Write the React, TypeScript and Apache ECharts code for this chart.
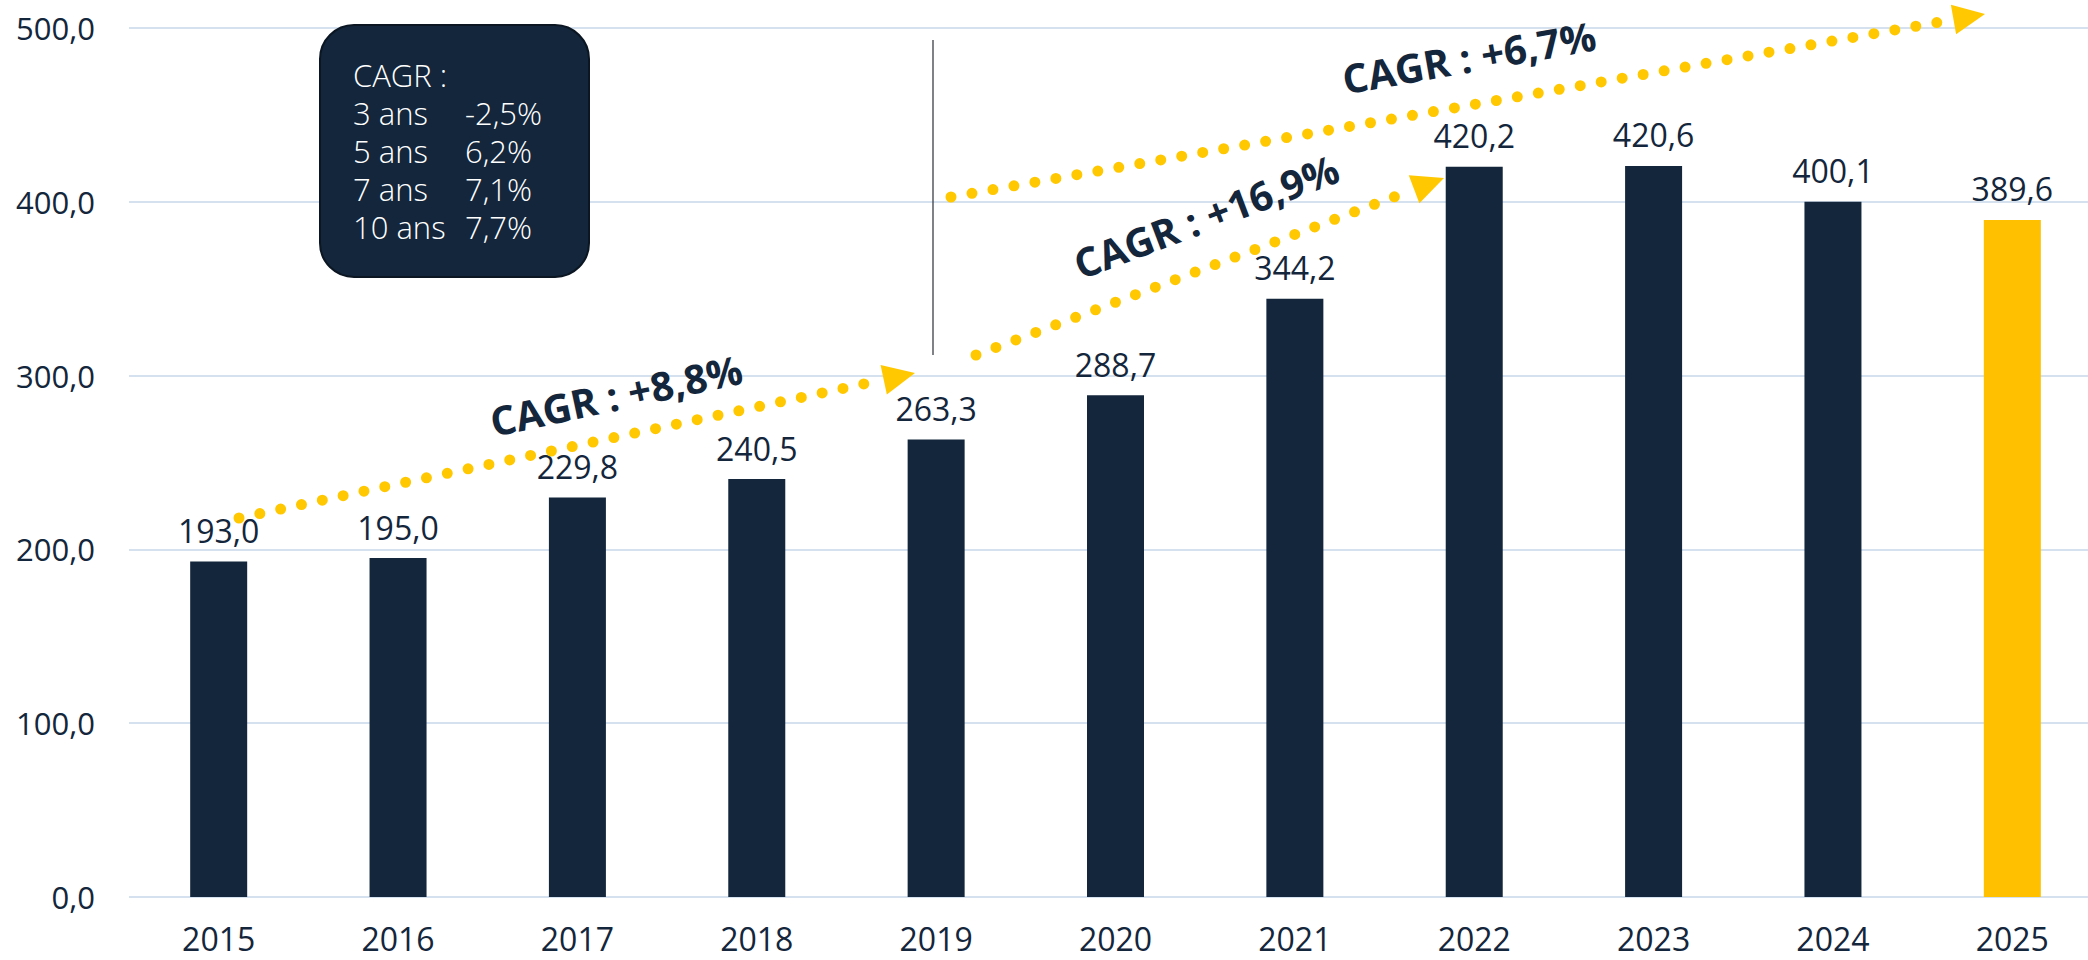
import React, { useEffect, useRef } from 'react';
import * as echarts from 'echarts';

// ---- Data ----
const years = ['2015', '2016', '2017', '2018', '2019', '2020', '2021', '2022', '2023', '2024', '2025'];
const revenue = [193.0, 195.0, 229.8, 240.5, 263.3, 288.7, 344.2, 420.2, 420.6, 400.1, 389.6];
const highlightYear = '2025';
const yMin = 0;
const yMax = 500;
const yInterval = 100;
const boxTitle = 'CAGR :';
const boxPeriods = ['3 ans', '5 ans', '7 ans', '10 ans'];
const boxRates = ['-2,5%', '6,2%', '7,1%', '7,7%'];
const arrowLabels = ['CAGR : +8,8%', 'CAGR : +16,9%', 'CAGR : +6,7%'];

// ---- Style ----
const NAVY = '#13263B';
const GOLD = '#FFC000';
const DOT = '#FFC800';
const GRID = '#D6E1EF';
const FONT = '"Open Sans", "Noto Sans", sans-serif';

const fmt = (v: number) => v.toFixed(1).replace('.', ',');

// annotation geometry (pixels)
const arrowGeo = [
  { x1: 239, y1: 518, x2: 915, y2: 373, tx: 616, ty: 395 },
  { x1: 976, y1: 355, x2: 1444, y2: 178, tx: 1206, ty: 216 },
  { x1: 951, y1: 197, x2: 1985, y2: 14, tx: 1469, ty: 57 },
];

function buildArrow(a: any, label: string) {
  const dx = a.x2 - a.x1;
  const dy = a.y2 - a.y1;
  const L = Math.hypot(dx, dy);
  const ux = dx / L;
  const uy = dy / L;
  const nx = -uy;
  const ny = ux;
  const headLen = 32;
  const headW = 30;
  const bx = a.x2 - ux * headLen;
  const by = a.y2 - uy * headLen;
  const ex = bx - ux * 12;
  const ey = by - uy * 12;
  const angle = Math.atan2(-dy, dx);
  return [
    {
      type: 'line',
      shape: { x1: a.x1, y1: a.y1, x2: ex, y2: ey },
      style: { stroke: DOT, lineWidth: 11, lineDash: [0, 21.3], lineCap: 'round' },
      z: 10,
    },
    {
      type: 'polygon',
      shape: {
        points: [
          [a.x2, a.y2],
          [bx + (nx * headW) / 2, by + (ny * headW) / 2],
          [bx - (nx * headW) / 2, by - (ny * headW) / 2],
        ],
      },
      style: { fill: DOT },
      z: 10,
    },
    {
      type: 'text',
      x: a.tx,
      y: a.ty,
      rotation: angle,
      style: {
        text: label,
        fontSize: 40,
        fontWeight: 'bold',
        fontFamily: FONT,
        fill: NAVY,
        align: 'center',
        verticalAlign: 'middle',
      },
      z: 11,
    },
  ];
}

export default function App() {
  const ref = useRef<HTMLDivElement>(null);

  useEffect(() => {
    if (!ref.current) return;
    const chart = echarts.init(ref.current, undefined, { renderer: 'svg' });

    const boxX = 320;
    const boxY = 25;
    const col1 = 353;
    const col2 = 465;
    const rowBase = [86, 124, 162, 200, 238];
    const boxFont = 31;
    const boxTexts: any[] = [];
    const mkText = (x: number, baseline: number, text: string) => ({
      type: 'text',
      x,
      y: baseline - boxFont * 0.36,
      style: {
        text,
        fontSize: boxFont,
        fontWeight: 300,
        fontFamily: FONT,
        fill: '#FFFFFF',
        align: 'left',
        verticalAlign: 'middle',
      },
      z: 21,
    });
    boxTexts.push(mkText(col1, rowBase[0], boxTitle));
    boxPeriods.forEach((p, i) => {
      boxTexts.push(mkText(col1, rowBase[i + 1], p));
      boxTexts.push(mkText(col2, rowBase[i + 1], boxRates[i]));
    });

    const graphics: any[] = [
      {
        type: 'rect',
        shape: { x: boxX, y: boxY, width: 269, height: 252, r: 34 },
        style: { fill: NAVY, stroke: '#0B1622', lineWidth: 2 },
        z: 20,
      },
      ...boxTexts,
      {
        type: 'line',
        shape: { x1: 933, y1: 40, x2: 933, y2: 355 },
        style: { stroke: '#3A3F45', lineWidth: 1.3 },
        z: 9,
      },
    ];
    arrowGeo.forEach((a, i) => graphics.push(...buildArrow(a, arrowLabels[i])));

    chart.setOption({
      animation: false,
      backgroundColor: '#FFFFFF',
      textStyle: { fontFamily: FONT },
      grid: { left: 129, top: 28, bottom: 63, width: 1973, containLabel: false },
      xAxis: {
        type: 'category',
        data: years,
        axisLine: { show: false },
        axisTick: { show: false },
        axisLabel: { color: NAVY, fontSize: 32, lineHeight: 30, margin: 26, fontFamily: FONT },
      },
      yAxis: {
        type: 'value',
        min: yMin,
        max: yMax,
        interval: yInterval,
        axisLine: { show: false },
        axisTick: { show: false },
        axisLabel: {
          color: NAVY,
          fontSize: 31,
          margin: 34,
          fontFamily: FONT,
          formatter: (v: number) => fmt(v),
        },
        splitLine: { lineStyle: { color: GRID, width: 2 } },
      },
      series: [
        {
          type: 'bar',
          barWidth: 57,
          data: revenue.map((v, i) => ({
            value: v,
            itemStyle: { color: years[i] === highlightYear ? GOLD : NAVY },
          })),
          label: {
            show: true,
            position: 'top',
            distance: 15,
            color: NAVY,
            fontSize: 32,
            fontFamily: FONT,
            formatter: (p: any) => fmt(p.value),
          },
        },
      ],
      graphic: graphics,
    });

    return () => chart.dispose();
  }, []);

  return (
    <div
      style={{
        position: 'fixed',
        left: 0,
        top: 0,
        width: 2088,
        height: 960,
        overflow: 'hidden',
        background: '#fff',
      }}
    >
      <div ref={ref} style={{ width: 2110, height: 960 }} />
    </div>
  );
}
